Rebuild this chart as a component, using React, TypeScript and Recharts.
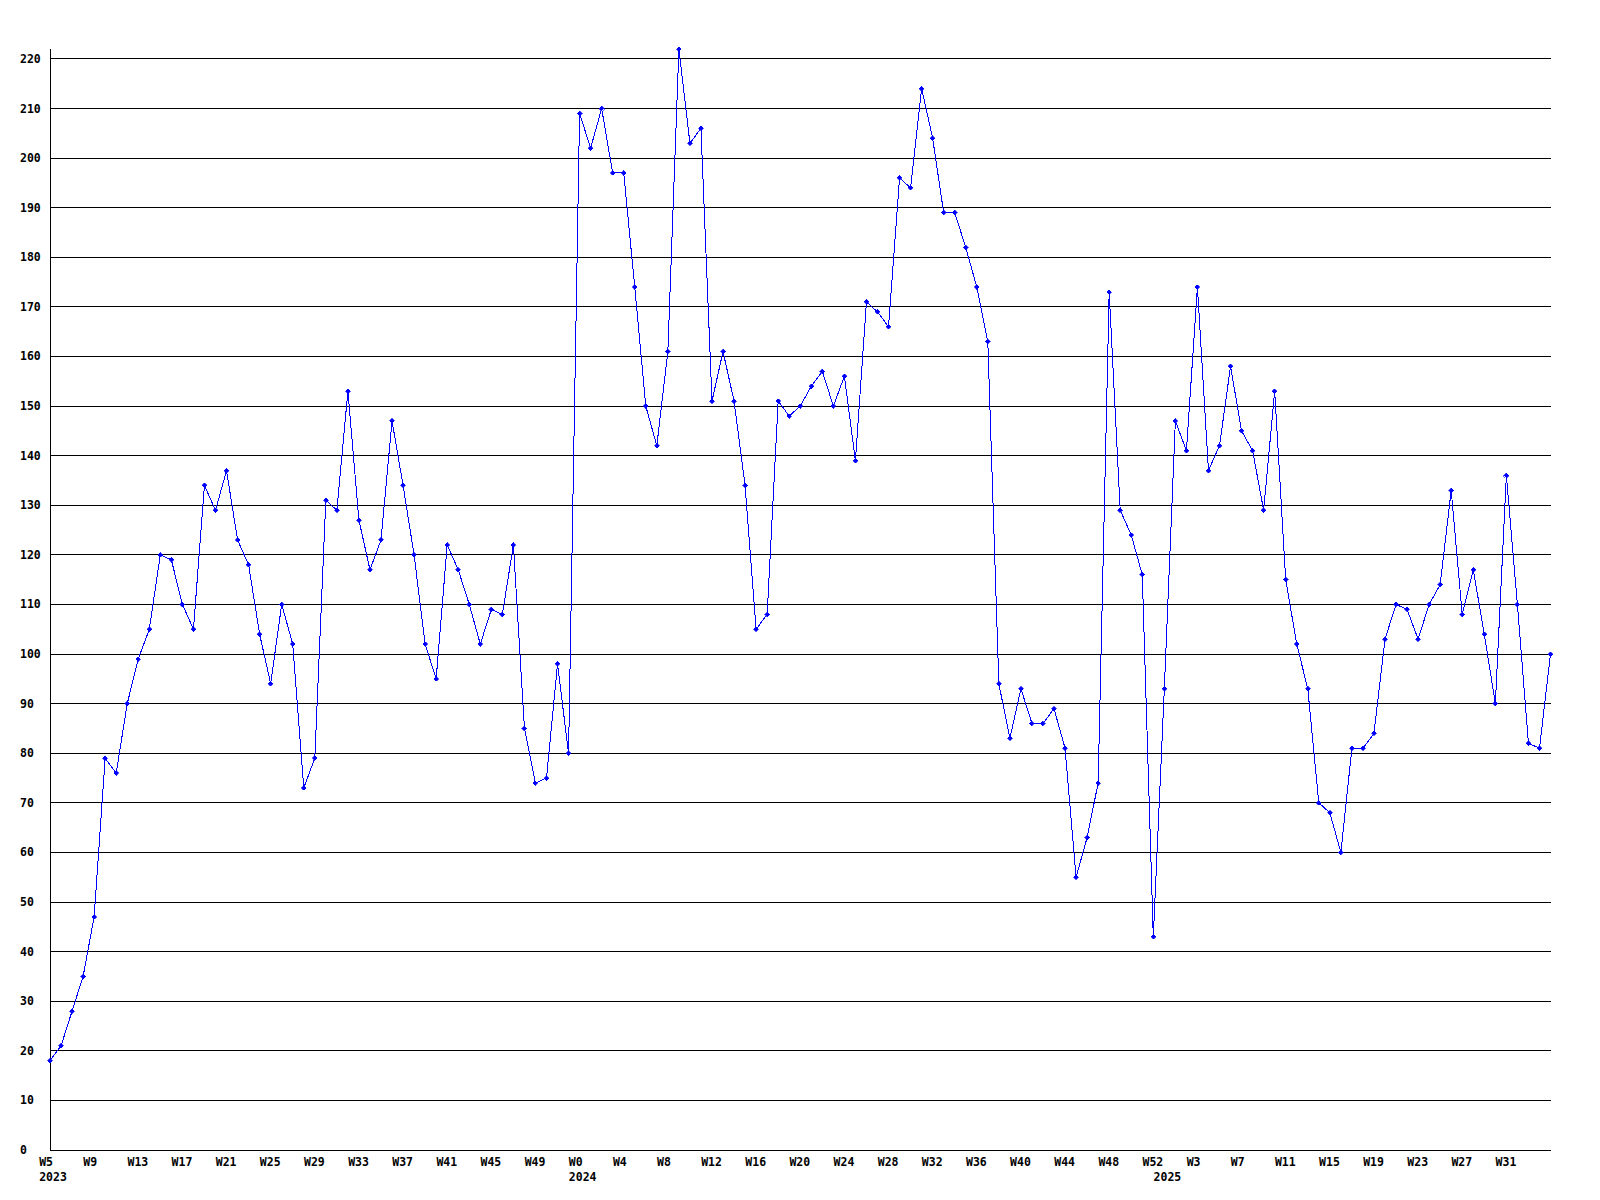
import React from 'react';
import { LineChart, Line, XAxis, YAxis, CartesianGrid } from 'recharts';

// Week numbers per year (categories)
const weeks2023 = [5, 6, 7, 8, 9, 10, 11, 12, 13, 14, 15, 16, 17, 18, 19, 20, 21, 22, 23, 24, 25, 26, 27, 28, 29, 30, 31, 32, 33, 34, 35, 36, 37, 38, 39, 40, 41, 42, 43, 44, 45, 46, 47, 48, 49, 50, 51, 52];
const weeks2024 = [0, 1, 2, 3, 4, 5, 6, 7, 8, 9, 10, 11, 12, 13, 14, 15, 16, 17, 18, 19, 20, 21, 22, 23, 24, 25, 26, 27, 28, 29, 30, 31, 32, 33, 34, 35, 36, 37, 38, 39, 40, 41, 42, 43, 44, 45, 46, 47, 48, 49, 50, 51, 52];
const weeks2025 = [0, 1, 2, 3, 4, 5, 6, 7, 8, 9, 10, 11, 12, 13, 14, 15, 16, 17, 18, 19, 20, 21, 22, 23, 24, 25, 26, 27, 28, 29, 30, 31, 32, 33, 34, 35];

// Series values per year
const values2023 = [18, 21, 28, 35, 47, 79, 76, 90, 99, 105, 120, 119, 110, 105, 134, 129, 137, 123, 118, 104, 94, 110, 102, 73, 79, 131, 129, 153, 127, 117, 123, 147, 134, 120, 102, 95, 122, 117, 110, 102, 109, 108, 122, 85, 74, 75, 98, 80];
const values2024 = [209, 202, 210, 197, 197, 174, 150, 142, 161, 222, 203, 206, 151, 161, 151, 134, 105, 108, 151, 148, 150, 154, 157, 150, 156, 139, 171, 169, 166, 196, 194, 214, 204, 189, 189, 182, 174, 163, 94, 83, 93, 86, 86, 89, 81, 55, 63, 74, 173, 129, 124, 116, 43];
const values2025 = [93, 147, 141, 174, 137, 142, 158, 145, 141, 129, 153, 115, 102, 93, 70, 68, 60, 81, 81, 84, 103, 110, 109, 103, 110, 114, 133, 108, 117, 104, 90, 136, 110, 82, 81, 100];

const yearNames = ['2023', '2024', '2025'];

// Tick labels
const yTicks = [0, 10, 20, 30, 40, 50, 60, 70, 80, 90, 100, 110, 120, 130, 140, 150, 160, 170, 180, 190, 200, 210, 220];
const weekTickIdx = [0, 4, 8, 12, 16, 20, 24, 28, 32, 36, 40, 44, 48, 52, 56, 60, 64, 68, 72, 76, 80, 84, 88, 92, 96, 100, 104, 108, 112, 116, 120, 124, 128, 132];

const yearWeeks = [weeks2023, weeks2024, weeks2025];
const yearValues = [values2023, values2024, values2025];

type Pt = { i: number; week: number; year: string; yearStart: boolean; v: number };
const data: Pt[] = [];
yearWeeks.forEach((wk, yi) => {
  wk.forEach((w, k) => {
    data.push({ i: data.length, week: w, year: yearNames[yi], yearStart: k === 0, v: yearValues[yi][k] });
  });
});

const yearStartIdx = data.filter((d) => d.yearStart).map((d) => d.i);
const xTicks = Array.from(new Set([...weekTickIdx, ...yearStartIdx])).sort((a, b) => a - b);
const weekTickSet = new Set(weekTickIdx);

const FONT = '"DejaVu Sans Mono", "Liberation Mono", monospace';

const XTick = (props: any) => {
  const { x, y, payload } = props;
  const d = data[payload.value];
  if (!d) return null;
  return (
    <g>
      {weekTickSet.has(d.i) && (
        <text x={x - 10.8} y={y + 16} fontFamily={FONT} fontWeight="bold" fontSize={11.5} fill="#000" textAnchor="start">
          {'W' + d.week}
        </text>
      )}
      {d.yearStart && (
        <text x={x - 10.8} y={y + 31} fontFamily={FONT} fontWeight="bold" fontSize={11.5} fill="#000" textAnchor="start">
          {d.year}
        </text>
      )}
    </g>
  );
};

const YTick = (props: any) => {
  const { x, y, payload } = props;
  return (
    <text x={x - 30} y={y + 4} fontFamily={FONT} fontWeight="bold" fontSize={11.5} fill="#000" textAnchor="start">
      {payload.value}
    </text>
  );
};

const Marker = (props: any) => {
  const { cx, cy, index } = props;
  if (cx == null || cy == null) return <g key={`m${index}`} />;
  const r = 2.5;
  return (
    <path
      key={`m${index}`}
      d={`M${cx},${cy - r}L${cx + r},${cy}L${cx},${cy + r}L${cx - r},${cy}Z`}
      fill="#0000ff"
      stroke="#0000ff"
      strokeWidth={0.6}
    />
  );
};

export default function App() {
  return (
    <div style={{ position: 'absolute', left: 0, top: 0, background: '#fff', shapeRendering: 'crispEdges' } as any}>
      <LineChart width={1600} height={1200} data={data} margin={{ top: 49, right: 49.5, bottom: 0, left: 0 }}>
        <CartesianGrid vertical={false} horizontalValues={yTicks} syncWithTicks={false} stroke="#000" strokeWidth={1} />
        <XAxis
          dataKey="i"
          type="number"
          domain={[0, data.length - 1]}
          ticks={xTicks}
          interval={0}
          height={50}
          tickSize={0}
          tickMargin={0}
          tickLine={false}
          axisLine={{ stroke: '#000', strokeWidth: 1 }}
          tick={<XTick />}
        />
        <YAxis
          type="number"
          domain={[0, 'dataMax']}
          ticks={yTicks}
          interval={0}
          width={50}
          tickSize={0}
          tickMargin={0}
          tickLine={false}
          axisLine={{ stroke: '#000', strokeWidth: 1 }}
          tick={<YTick />}
        />
        <Line
          type="linear"
          dataKey="v"
          stroke="#0000ff"
          strokeWidth={1}
          dot={Marker}
          activeDot={false}
          isAnimationActive={false}
        />
      </LineChart>
    </div>
  );
}
